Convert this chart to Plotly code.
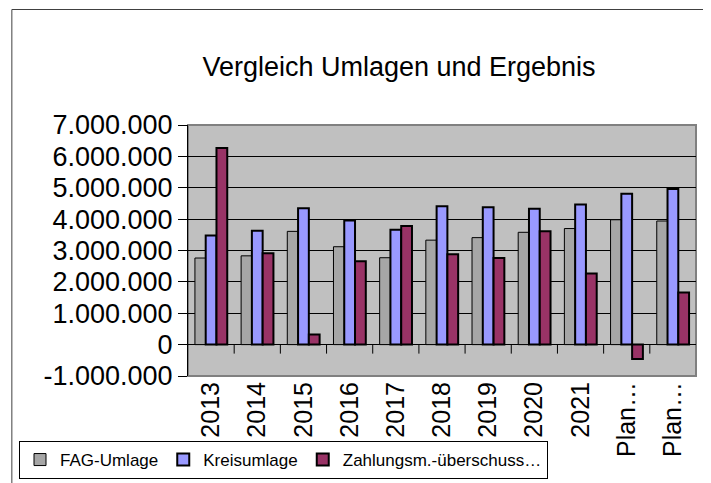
import plotly.graph_objects as go

categories = ["2013", "2014", "2015", "2016", "2017", "2018", "2019", "2020", "2021", "Plan 1", "Plan 2"]
tick_labels = ["2013", "2014", "2015", "2016", "2017", "2018", "2019", "2020", "2021", "Plan…", "Plan…"]
fag_umlage = [2760000, 2830000, 3610000, 3120000, 2770000, 3330000, 3410000, 3580000, 3700000, 3980000, 3940000]
kreisumlage = [3480000, 3630000, 4350000, 3960000, 3660000, 4410000, 4380000, 4330000, 4470000, 4810000, 4960000]
ueberschuss = [6270000, 2910000, 320000, 2660000, 3780000, 2880000, 2760000, 3610000, 2270000, -460000, 1660000]
y_tick_values = [-1000000, 0, 1000000, 2000000, 3000000, 4000000, 5000000, 6000000, 7000000]
y_tick_labels = ["-1.000.000", "0", "1.000.000", "2.000.000", "3.000.000", "4.000.000",
                 "5.000.000", "6.000.000", "7.000.000"]

W, H = 711, 483
L, R, T, B = 179, 688, 117, 368
pw, ph = R - L, B - T

def px(x):
    return (x - L) / pw

def py(y):
    return 1 - (y - T) / ph

font = "Liberation Sans, Arial, sans-serif"

fig = go.Figure()
fig.add_bar(x=categories, y=fag_umlage, name="FAG-Umlage",
            marker=dict(color="#A6A6A6", line=dict(color="black", width=1)))
fig.add_bar(x=categories, y=kreisumlage, name="Kreisumlage",
            marker=dict(color="#9999FF", line=dict(color="black", width=2)))
fig.add_bar(x=categories, y=ueberschuss, name="Zahlungsm.-überschuss…",
            marker=dict(color="#993366", line=dict(color="black", width=2)))

shapes = []
# plot area border
shapes.append(dict(type="rect", xref="paper", yref="paper", x0=0, x1=1, y0=0, y1=1,
                   line=dict(color="#808080", width=2), layer="below"))
# outer chart border
shapes.append(dict(type="rect", xref="paper", yref="paper", x0=px(2.5), x1=px(704.5),
                   y0=py(495), y1=py(1.5), line=dict(color="#404040", width=1)))
# category boundary ticks on zero line
for i in range(len(categories) - 1):
    shapes.append(dict(type="line", xref="x", yref="y", ysizemode="pixel", yanchor=0,
                       x0=i + 0.5, x1=i + 0.5, y0=0, y1=-9,
                       line=dict(color="black", width=1)))

fig.update_layout(
    width=W, height=H,
    margin=dict(l=L, r=W - R, t=T, b=H - B, pad=0),
    paper_bgcolor="white",
    plot_bgcolor="#C0C0C0",
    barmode="group",
    bargap=0.30,
    bargroupgap=0,
    font=dict(family=font, color="black"),
    title=dict(text="Vergleich Umlagen und Ergebnis", xref="container", x=391 / W,
               xanchor="center", yref="container", y=1 - 59 / H, yanchor="middle",
               font=dict(size=27, family=font)),
    xaxis=dict(tickmode="array", tickvals=categories, ticktext=tick_labels,
               tickangle=-90, tickfont=dict(size=25), showgrid=False,
               showline=False, ticks="", automargin=False),
    yaxis=dict(range=[-1000000, 7000000], tickmode="array", tickvals=y_tick_values,
               ticktext=y_tick_labels, tickfont=dict(size=27), automargin=False,
               showgrid=True, gridcolor="black", gridwidth=1,
               zeroline=True, zerolinecolor="black", zerolinewidth=1,
               showline=True, linecolor="black", linewidth=1,
               ticks="outside", ticklen=9, tickcolor="black", ticklabelstandoff=0),
    legend=dict(orientation="h", x=px(11), y=py(433), xanchor="left", yanchor="top",
                bordercolor="black", borderwidth=1, bgcolor="white",
                font=dict(size=17), itemwidth=30, tracegroupgap=0),
    shapes=shapes,
    showlegend=True,
)

fig.write_html("out.html")
